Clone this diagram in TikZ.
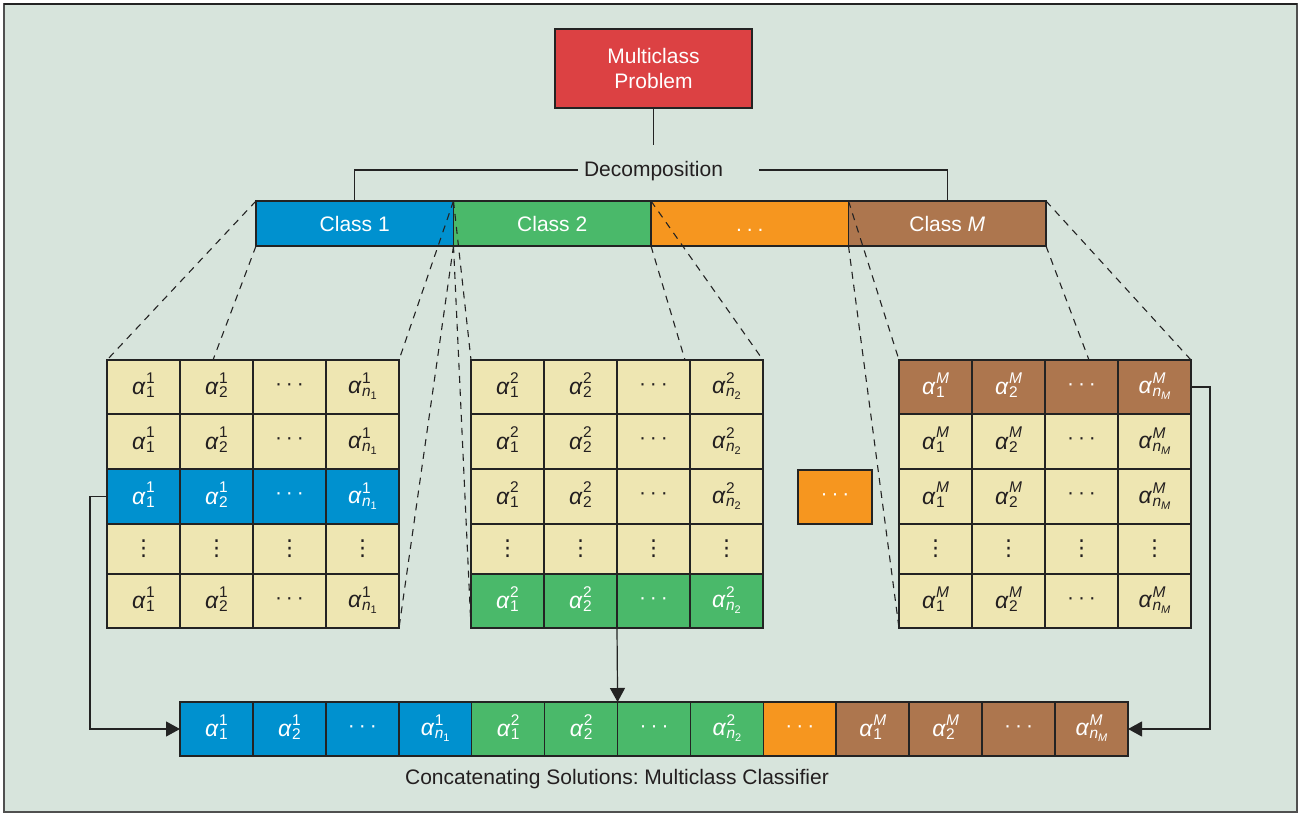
\documentclass[tikz,border=0pt]{standalone}
\usepackage{fontspec}
\setmainfont{Liberation Sans}
\newfontfamily\symfont{DejaVu Sans}
\usetikzlibrary{arrows.meta,calc}

\definecolor{bgc}{HTML}{D7E4DC}
\definecolor{framec}{HTML}{505050}
\definecolor{linec}{HTML}{232323}
\definecolor{redc}{HTML}{DC4143}
\definecolor{bluec}{HTML}{0091CF}
\definecolor{greenc}{HTML}{4AB96A}
\definecolor{orangec}{HTML}{F6961F}
\definecolor{brownc}{HTML}{AD764E}
\definecolor{beigec}{HTML}{EEE6B2}
\definecolor{inkc}{HTML}{231F20}

% alpha with superscript #1 stacked over subscript #2
\newcommand{\al}[2]{%
  {\fontsize{23}{23}\selectfont\itshape α}\kern0.8pt%
  \raisebox{-3pt}{\fontsize{15.5}{13}\selectfont
    \begin{tabular}[b]{@{}l@{}}#1\\#2\end{tabular}}}
\newcommand{\nsub}[1]{{\itshape n}\raisebox{-3pt}{\fontsize{11}{11}\selectfont #1}}
\newcommand{\hdts}{·\hspace{4pt}·\hspace{4pt}·}
\newcommand{\bdts}{\vphantom{Cl}.\hspace{5pt}.\hspace{5pt}.}
\newcommand{\vdts}{{\symfont\fontsize{22}{22}\selectfont ⋮}}

\tikzset{
  basefont/.style={font=\fontsize{21}{25}\selectfont},
  cellbox/.style={draw=linec, line width=1.6pt, minimum width=73pt,
    inner sep=0pt, outer sep=0pt, basefont},
  classbox/.style={draw=linec, line width=1.6pt, minimum width=197.5pt,
    minimum height=45pt, inner sep=0pt, outer sep=0pt, text=white, basefont},
  conn/.style={draw=linec, line width=1.2pt},
  arrowconn/.style={conn, -{Triangle[length=14pt,width=15pt]}},
  guide/.style={draw=linec, line width=1.1pt, dash pattern=on 7pt off 6pt},
}

% one row of four cells: name, x0, y top, height, fill, text colour, sup, last sub
\newcommand{\cellrow}[8]{%
  \node[cellbox, fill=#5, text=#6, minimum height=#4pt, anchor=north west] (#1-1) at (#2, #3) {\al{#7}{1}};
  \node[cellbox, fill=#5, text=#6, minimum height=#4pt, anchor=north west] (#1-2) at ({#2+73}, #3) {\al{#7}{2}};
  \node[cellbox, fill=#5, text=#6, minimum height=#4pt, anchor=north west] (#1-3) at ({#2+146}, #3) {\hdts};
  \node[cellbox, fill=#5, text=#6, minimum height=#4pt, anchor=north west] (#1-4) at ({#2+219}, #3) {\al{#7}{#8}};
}
% one row of vertical dots: name, x0, y top, height
\newcommand{\dotrow}[4]{%
  \foreach \c in {1,...,4} {
    \node[cellbox, fill=beigec, text=inkc, minimum height=#4pt, anchor=north west]
      (#1-\c) at ({#2+73*(\c-1)}, #3) {\vdts};
  }
}
% a whole 5-row block: prefix, x0, sup, last sub, fill of highlighted row, which row
\newcommand{\block}[6]{%
  \foreach \r/\yt/\hh in {1/360/54, 2/414/55, 3/469/55, 5/574/54} {
    \ifnum\r=#6\relax
      \cellrow{#1r\r}{#2}{\yt}{\hh}{#5}{white}{#3}{#4}
    \else
      \cellrow{#1r\r}{#2}{\yt}{\hh}{beigec}{inkc}{#3}{#4}
    \fi
  }
  \dotrow{#1r4}{#2}{524}{50}
}

\begin{document}
\frenchspacing
\begin{tikzpicture}[x=1pt, y=-1pt]
  \useasboundingbox (0,0) rectangle (1302,816);
  \fill[white] (0,0) rectangle (1302,816);
  \draw[fill=bgc, draw=framec, line width=1.5pt] (4,4) rectangle (1297,812);
  \draw[linec, line width=1.5pt] (4,4) -- (1297,4);

  % problem and decomposition
  \node[draw=linec, line width=1.6pt, fill=redc, text=white, minimum width=197pt,
    minimum height=79pt, inner sep=0pt, align=center, basefont] (prob) at (653.5,68.5)
    {Multiclass\\Problem};
  \node[basefont, text=inkc, inner sep=0pt] (dec) at (653.5,171) {Decomposition};
  \coordinate (dtop) at (653.5,145);
  \coordinate (dl) at (578,170);
  \coordinate (dr) at (759,170);

  % class bar
  \node[classbox, fill=bluec, anchor=north west] (c1) at (256,201) {Class 1};
  \node[classbox, fill=greenc, anchor=north west] (c2) at (453.5,201) {Class 2};
  \node[classbox, fill=orangec, anchor=north west] (c3) at (651,201) {\bdts};
  \node[classbox, fill=brownc, anchor=north west] (cM) at (848.5,201) {Class \textit{M}};

  \draw[conn] (prob.south) -- (dtop);
  \draw[conn] (dl) -| (c1.north);
  \draw[conn] (dr) -| (cM.north);

  % solution blocks
  \block{ma}{107}{1}{\nsub{1}}{bluec}{3}
  \block{mb}{471}{2}{\nsub{2}}{greenc}{5}
  \block{mc}{899}{\itshape M}{\nsub{\itshape M}}{brownc}{1}

  \node[draw=linec, line width=1.6pt, fill=orangec, text=white, minimum width=74pt,
    minimum height=54pt, inner sep=0pt, basefont] (mid) at (835,497) {\hdts};

  % concatenated classifier
  \foreach \i/\f/\t in {
      1/bluec/{\al{1}{1}}, 2/bluec/{\al{1}{2}}, 3/bluec/{\hdts}, 4/bluec/{\al{1}{\nsub{1}}},
      5/greenc/{\al{2}{1}}, 6/greenc/{\al{2}{2}}, 7/greenc/{\hdts}, 8/greenc/{\al{2}{\nsub{2}}},
      9/orangec/{\hdts},
      10/brownc/{\al{\itshape M}{1}}, 11/brownc/{\al{\itshape M}{2}}, 12/brownc/{\hdts},
      13/brownc/{\al{\itshape M}{\nsub{\itshape M}}}} {
    \node[cellbox, fill=\f, text=white, minimum width=73pt, minimum height=54pt,
      anchor=north west] (b\i) at ({180+72.92*(\i-1)}, 702) {\t};
  }
  \node[basefont, text=inkc, inner sep=0pt] (cap) at (617,779)
    {Concatenating Solutions: Multiclass Classifier};

  % arrows into the classifier
  \draw[arrowconn] (mar3-1.west) -- ++(-17,0) |- (b1.west);
  \draw[arrowconn] (mbr5-2.south east) -- (b6.north east);
  \draw[arrowconn] (mcr1-4.east) -- ++(19,0) |- (b13.east);

  % guide lines from classes to their blocks
  \coordinate (g1) at (213,360);
  \coordinate (g2) at (685,360);
  \coordinate (g3) at (1089,360);
  \draw[guide] (c1.north west) -- (mar1-1.north west);
  \draw[guide] (c1.south west) -- (g1);
  \draw[guide] (c1.north east) -- (mar1-4.north east);
  \draw[guide] (c1.south east) -- (mar5-4.south east);
  \draw[guide] (c2.north west) -- (mbr1-1.north west);
  \draw[guide] (c2.south west) -- (mbr5-1.south west);
  \draw[guide] (c2.north east) -- (mbr1-4.north east);
  \draw[guide] (c2.south east) -- (g2);
  \draw[guide] (cM.north west) -- (mcr1-1.north west);
  \draw[guide] (cM.south west) -- (mcr5-1.south west);
  \draw[guide] (cM.north east) -- (mcr1-4.north east);
  \draw[guide] (cM.south east) -- (g3);
\end{tikzpicture}
\end{document}
